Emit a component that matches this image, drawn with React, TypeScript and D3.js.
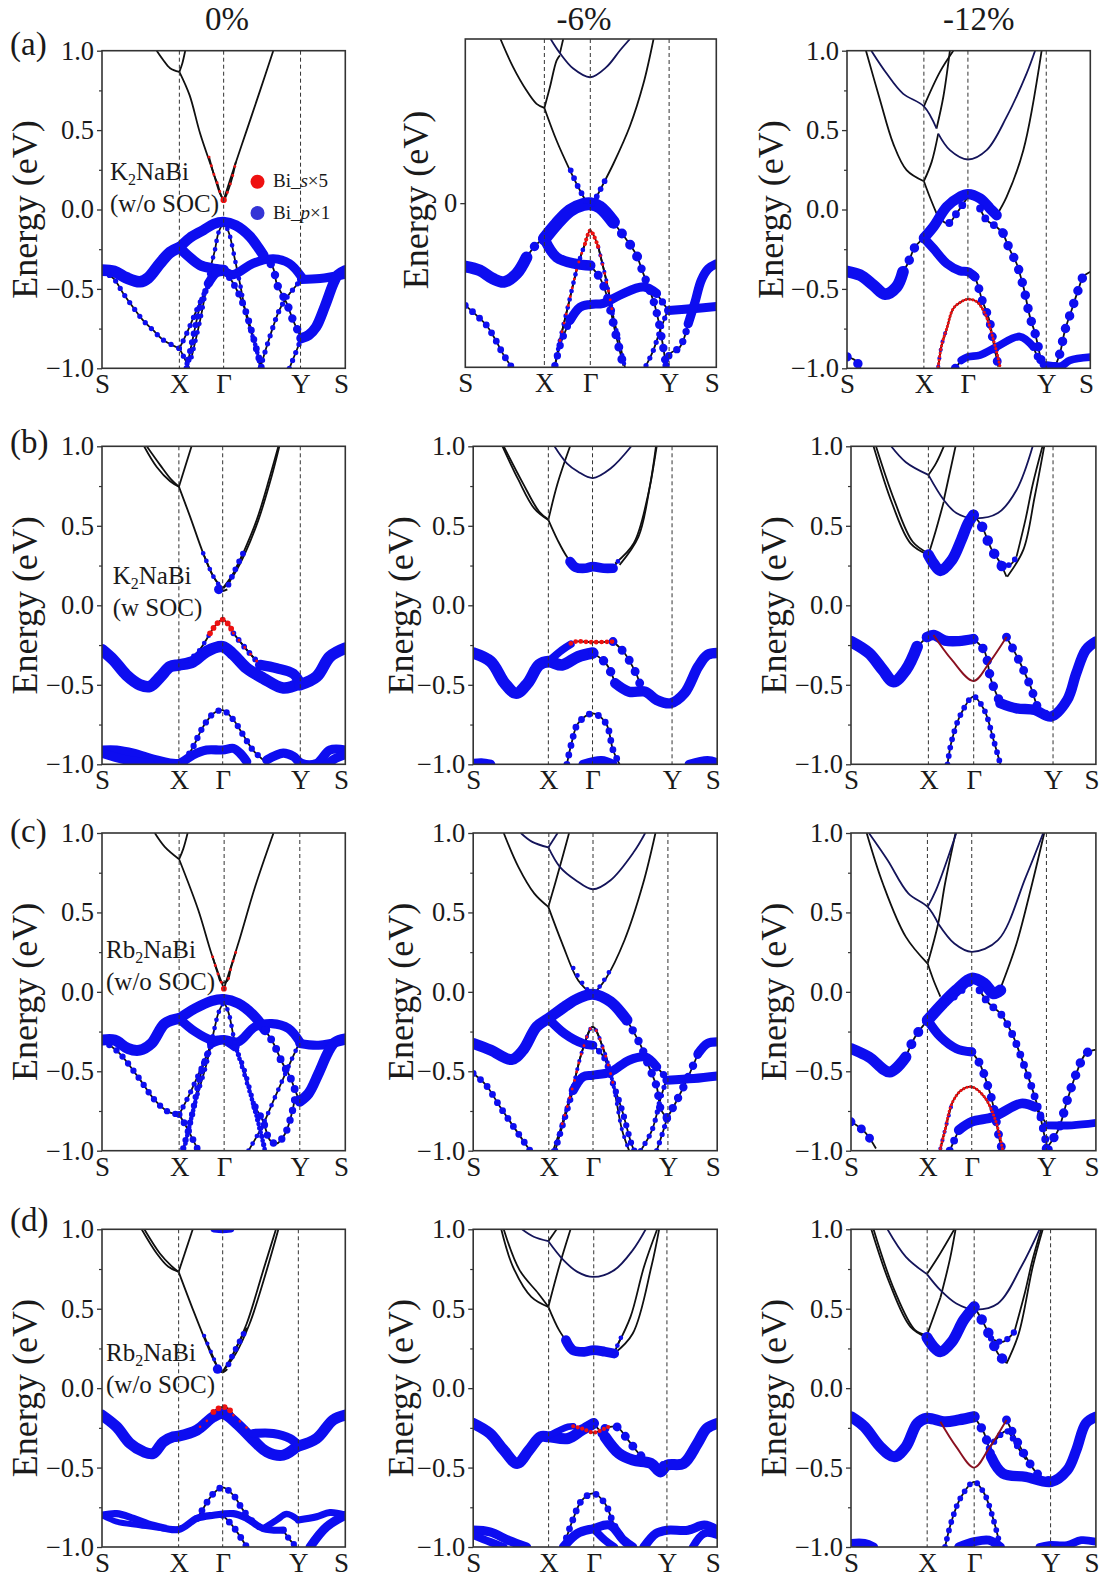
import React, { useEffect, useRef } from 'react';
import * as d3 from 'd3';

// k is % of the S-X-G-Y-S path, E in eV. a track is [weight, points]
type Pt = [number, number];
type Track = [number, Pt[]];

const bandLabels = ['S', 'X', 'Γ', 'Y', 'S'];
const strainLabels = ['0%', '-6%', '-12%'];
const rowLabels = ['(a)', '(b)', '(c)', '(d)'];

// ---- row a
const a0Lines: Pt[][] = [
  [[22.5, 1], [25, 0.945], [28, 0.89], [31.8, 0.867]],
  [[31.8, 0.867], [33, 0.92], [34.2, 1]],
  [[31.8, 0.867], [36, 0.72], [40.3, 0.48], [45.8, 0.23], [48.5, 0.1], [50, 0.06]],
  [[50, 0.06], [54, 0.25], [59.5, 0.5], [65, 0.75], [70.4, 1]],
];
const a0Fat: Track[] = [
  [0.9, [[0, -0.382], [5, -0.39], [10, -0.43], [15.6, -0.455], [19, -0.43], [23.8, -0.34], [28, -0.27], [31.8, -0.24]]],
  [0.8, [[31.8, -0.24], [36, -0.18], [41.6, -0.13], [46, -0.09], [50, -0.078], [55, -0.1], [60.8, -0.17], [64, -0.235], [66.3, -0.287]]],
  [0.8, [[31.8, -0.24], [36, -0.3], [40.3, -0.35], [45, -0.37], [50, -0.38]]],
  [0.7, [[43.7, -0.466], [47, -0.4], [50, -0.39], [54, -0.41], [62, -0.34], [70.4, -0.31], [77, -0.34], [82, -0.424]]],
  [0.7, [[82, -0.44], [89.6, -0.435], [100, -0.407]]],
  [0.8, [[82, -0.81], [85, -0.79], [88, -0.74], [91.6, -0.61], [95, -0.47], [97, -0.41], [100, -0.382]]],
];
const a0Beads: Track[] = [
  [0.8, [[66.3, -0.287], [70.4, -0.37], [71.8, -0.466], [75.9, -0.59], [78.6, -0.7], [82, -0.81]]],
  [0.65, [[50, -0.38], [54, -0.466], [58.8, -0.63], [63.6, -0.886], [65.6, -1]]],
  [0.6, [[34.8, -1], [37.5, -0.8], [40.3, -0.61], [43.7, -0.466]]],
  [0.5, [[0, -0.39], [4.7, -0.434], [8.8, -0.53], [13, -0.62], [17, -0.7], [21, -0.76], [25, -0.82], [31.8, -0.875]]],
  [0.5, [[31.8, -0.875], [34, -0.94], [35.9, -1]]],
  [0.5, [[31.8, -0.875], [34.8, -0.78], [39, -0.63], [43, -0.5], [45.8, -0.43]]],
  [0.45, [[36.8, -0.93], [40.3, -0.7], [44.4, -0.38], [46.4, -0.256], [48, -0.14], [50, -0.09], [52, -0.14], [54.7, -0.32], [56.7, -0.466], [59.5, -0.68], [63.6, -0.886], [65, -1]]],
  [0.5, [[65, -1], [69, -0.8], [73, -0.63], [76.6, -0.54], [80, -0.476], [82, -0.43]]],
  [0.5, [[77, -1], [78.6, -0.94], [82, -0.81]]],
];
const a0Red: Track[] = [
  [0.6, [[50, 0.06]]],
  [0.28, [[44, 0.33], [46, 0.22], [47.5, 0.16], [48.7, 0.1], [50, 0.06], [51.6, 0.11], [53.5, 0.2], [55, 0.3]]],
];

const a1Lines: Pt[][] = [
  [[14, 1], [19, 0.83], [24.4, 0.686], [28.4, 0.605], [31.5, 0.58]],
  [[31.5, 0.58], [33.7, 0.706], [36.4, 0.87], [37.7, 0.9]],
  [[37.7, 0.914], [39, 1]],
  [[31.5, 0.58], [36.4, 0.38], [41.7, 0.2], [45.7, 0.077], [49.8, -0.035]],
  [[49.8, -0.035], [53.6, 0.077], [59, 0.24], [65.6, 0.47], [71, 0.73], [75, 1]],
];
const a1Navy: Pt[][] = [
  [[34, 1], [37.7, 0.914], [43, 0.82], [49.8, 0.767], [56.3, 0.83], [61.6, 0.93], [65.6, 1]],
];
const a1Fat: Track[] = [
  [0.9, [[0, -0.386], [5.8, -0.41], [11, -0.46], [15.4, -0.48], [20.4, -0.43], [24.4, -0.33]]],
  [1, [[31.5, -0.217], [36.4, -0.126], [41.7, -0.045], [47, -0.008], [49.8, -0.004], [53.6, -0.024], [59, -0.116]]],
  [0.8, [[31.5, -0.217], [36.4, -0.33], [44, -0.37], [49.8, -0.38]]],
  [0.7, [[41.7, -0.715], [45.7, -0.634], [49.8, -0.617], [55, -0.61], [61.6, -0.56], [71, -0.51], [76.2, -0.55]]],
  [0.7, [[81, -0.654], [89.5, -0.644], [100, -0.63]]],
  [0.7, [[88.8, -0.735], [91.5, -0.603], [94, -0.47], [96.8, -0.4], [100, -0.37]]],
];
const a1Beads: Track[] = [
  [0.9, [[24.4, -0.33], [28.4, -0.25], [31.5, -0.217]]],
  [0.95, [[59, -0.116], [63, -0.197], [66.3, -0.268], [68.3, -0.32], [70.2, -0.4]]],
  [0.8, [[70.2, -0.4], [74.9, -0.593], [76.2, -0.664], [78, -0.8], [80, -0.99]]],
  [0.85, [[49.8, -0.38], [53, -0.44], [55, -0.5], [57.6, -0.634], [59.6, -0.776], [63, -0.99]]],
  [0.7, [[35.7, -0.99], [38.4, -0.837], [41.7, -0.715]]],
  [0.7, [[76.2, -0.55], [80.9, -0.654]]],
  [0.65, [[0, -0.623], [4.5, -0.684], [8.5, -0.745], [11.8, -0.826], [15, -0.918], [18.5, -1]]],
  [0.45, [[35.7, -0.99], [37.7, -0.837], [41, -0.623], [45, -0.37], [47.7, -0.248]]],
  [0.4, [[53, -0.268], [56.3, -0.48], [59, -0.694], [61.6, -0.857], [63.6, -1]]],
  [0.5, [[72, -0.99], [74.9, -0.897], [77.6, -0.776], [81, -0.64]]],
  [0.7, [[80, -0.99], [81.5, -0.918], [85.5, -0.877], [88.8, -0.735]]],
];
const a1Red: Track[] = [
  [0.28, [[37.7, -0.837], [41, -0.623], [45, -0.37], [47.7, -0.248]]],
  [0.4, [[47.7, -0.248], [49.8, -0.167], [53, -0.268]]],
  [0.28, [[53, -0.268], [56.3, -0.48], [59, -0.694]]],
];
const a1Tiny: Track[] = [
  [0.55, [[42, 0.2], [45.7, 0.077], [49.8, -0.01], [53.6, 0.077], [56, 0.15]]],
];

const a2Lines: Pt[][] = [
  [[7.8, 1], [13.6, 0.688], [19, 0.415], [24.5, 0.248], [31.6, 0.178]],
  [[31.6, 0.65], [38.2, 0.867], [43.7, 1]],
  [[36.8, 0.51], [39.6, 0.71], [42.3, 1]],
  [[31.6, 0.178], [34.8, 0.3], [37.5, 0.478]],
  [[31.6, 0.178], [34, 0.08], [36.8, -0.025]],
  [[61.5, -0.036], [65.6, 0.08], [72.5, 0.374], [80, 1]],
];
const a2Navy: Pt[][] = [
  [[10, 1], [16.3, 0.856], [23, 0.73], [31.6, 0.65], [36.8, 0.51]],
  [[37.5, 0.478], [42.3, 0.374], [49.7, 0.315], [57.4, 0.374], [65.6, 0.583], [73.8, 0.856], [77.3, 1]],
];
const a2Fat: Track[] = [
  [0.9, [[0, -0.39], [5.3, -0.413], [10.8, -0.476], [15.6, -0.533], [20.4, -0.487], [23, -0.392]]],
  [0.7, [[31.6, -0.18], [35.5, -0.245], [41, -0.34], [46.4, -0.386], [49.7, -0.392], [52.6, -0.424]]],
  [0.8, [[31.6, -0.18], [35.5, -0.11], [41, 0.017], [46.4, 0.08], [49.7, 0.097], [54.7, 0.07], [58.8, 0.006], [61.5, -0.036]]],
  [0.6, [[47, -0.95], [49.7, -0.928], [54.7, -0.917], [61.5, -0.865], [71, -0.8], [76.6, -0.865]]],
  [0.6, [[82, -0.98], [88, -0.985], [91.6, -0.95], [100, -0.93]]],
];
const a2Beads: Track[] = [
  [0.9, [[23, -0.392], [25, -0.34], [28, -0.235], [31.6, -0.18]]],
  [0.85, [[52.6, -0.424], [54, -0.487], [55.3, -0.56], [58.5, -0.697], [60, -0.823], [62.2, -0.99]]],
  [0.75, [[38.2, -0.057], [41.6, -0.088], [45, -0.025], [49.7, 0.08]]],
  [0.75, [[54.7, 0.006], [57.4, -0.067], [61.5, -0.11], [64.2, -0.15]]],
  [0.9, [[64.2, -0.15], [67, -0.256], [69.7, -0.34], [72.5, -0.487], [75.2, -0.676], [77.3, -0.78], [80, -0.97]]],
  [0.7, [[76.6, -0.865], [80, -0.97], [82, -0.98]]],
  [0.9, [[85.5, -0.99], [87.5, -0.907], [89.6, -0.76], [92.3, -0.634], [95, -0.508], [97.1, -0.424], [100, -0.392]]],
  [0.9, [[0, -0.928], [3.3, -0.949], [5.6, -1]]],
  [0.85, [[44.5, -1], [47, -0.95]]],
  [0.4, [[37.5, -0.99], [38.9, -0.854], [41, -0.75]]],
];
const a2Red: Track[] = [
  [0.3, [[37.5, -0.99], [38.9, -0.854], [41, -0.75], [43.7, -0.623], [47, -0.58], [49.7, -0.565], [53.3, -0.58], [56.7, -0.655], [60, -0.81], [62.2, -0.94], [62.9, -0.99]]],
];

// ---- row b
const b0Lines: Pt[][] = [
  [[17.3, 1], [22.5, 0.87], [28, 0.78], [31.6, 0.746]],
  [[18.4, 1], [24, 0.88], [28.5, 0.79], [31.6, 0.746]],
  [[31.6, 0.746], [36.8, 1]],
  [[31.6, 0.746], [36.2, 0.558], [41.6, 0.327], [45.8, 0.18], [49.6, 0.107]],
  [[49.6, 0.107], [54, 0.2], [58, 0.327], [63.6, 0.537], [69, 0.81], [72.5, 1]],
  [[50, 0.107], [54.5, 0.2], [58.8, 0.327], [64.3, 0.537], [69.7, 0.81], [72.9, 1]],
];
const b0Fat: Track[] = [
  [0.9, [[0, -0.28], [4.7, -0.344], [10, -0.438], [15.6, -0.5], [19.7, -0.51], [24, -0.449], [28, -0.386], [31.6, -0.375], [37.5, -0.354], [43, -0.29], [49.6, -0.26], [54, -0.31], [59.5, -0.396], [66.3, -0.459], [74.5, -0.52], [81.4, -0.49]]],
  [0.8, [[65, -0.375], [71.8, -0.396], [78.6, -0.43], [81.4, -0.49]]],
  [0.9, [[81.4, -0.5], [88.2, -0.449], [93.7, -0.323], [100, -0.27]]],
  [0.7, [[0, -0.91], [6, -0.91], [13, -0.93], [22.5, -0.973], [31.6, -0.994], [37.5, -0.94], [43, -0.91], [49.6, -0.91], [54, -0.9], [56.7, -0.93], [59.5, -0.983]]],
  [0.7, [[0, -0.93], [10, -0.973], [19.7, -0.994]]],
  [0.7, [[67.7, -0.973], [74.5, -0.93], [78.6, -0.95], [82, -0.994], [88.2, -0.994], [93.7, -0.91], [100, -0.91]]],
  [0.7, [[92.3, -1], [96.4, -0.96], [100, -0.94]]],
];
const b0Beads: Track[] = [
  [0.55, [[54, -0.176], [59.5, -0.28], [65, -0.375]]],
  [0.45, [[31.6, -0.375], [39, -0.3], [44.4, -0.176]]],
  [0.6, [[34, -0.98], [37.5, -0.889], [41.6, -0.763], [45.8, -0.68], [49.6, -0.66], [54, -0.72], [58, -0.815], [62, -0.91], [66.3, -0.973]]],
  [0.45, [[41.6, 0.327], [45.8, 0.18], [48, 0.13]]],
  [0.55, [[52, 0.13], [54, 0.2], [58, 0.327]]],
  [0.9, [[48, 0.1], [49.6, 0.09], [51.5, 0.1]]],
];
const b0Red: Track[] = [
  [0.55, [[44.4, -0.176], [47, -0.12], [49.6, -0.09], [52, -0.12], [54, -0.176]]],
  [0.28, [[54, -0.176], [59.5, -0.28], [65, -0.375]]],
];

const b1Lines: Pt[][] = [
  [[12, 1], [18.5, 0.79], [25, 0.61], [30.8, 0.537]],
  [[12.5, 1], [20.4, 0.767], [27, 0.59], [30.8, 0.54]],
  [[30.8, 0.537], [34.6, 0.767], [39.7, 1]],
  [[30.8, 0.537], [34.6, 0.41], [38.4, 0.306], [42, 0.243]],
  [[58.2, 0.264], [65.8, 0.39], [71.5, 0.683], [74.9, 1]],
  [[60, 0.254], [67.7, 0.43], [72.4, 0.746], [75.2, 1]],
];
const b1Navy: Pt[][] = [
  [[33.3, 1], [38.4, 0.893], [43, 0.84], [49, 0.8], [56.3, 0.86], [64.8, 1]],
];
const b1Fat: Track[] = [
  [0.75, [[39.7, 0.275], [42, 0.239], [46, 0.233], [49, 0.243], [53.5, 0.233], [57.3, 0.233]]],
  [0.9, [[0, -0.3], [7.2, -0.354], [12.9, -0.49], [17.6, -0.553], [22.3, -0.49], [27, -0.375], [30.8, -0.354], [36.5, -0.375], [43, -0.323], [49, -0.3]]],
  [0.8, [[58.2, -0.49], [63.9, -0.543], [70.5, -0.543], [75.2, -0.595], [80.9, -0.616], [86.6, -0.553], [92.2, -0.386], [96, -0.312], [100, -0.3]]],
  [0.7, [[0, -0.994], [3.4, -0.99], [7.2, -1]]],
  [0.7, [[45, -1], [52.6, -0.977], [57.3, -1]]],
  [0.7, [[88.5, -1], [96, -0.977], [100, -0.99]]],
  [0.6, [[30.8, -0.354], [36.5, -0.28], [40, -0.245]]],
];
const b1Beads: Track[] = [
  [0.9, [[49, -0.3], [54.4, -0.365], [58.2, -0.49]]],
  [0.85, [[57.3, -0.228], [62, -0.3], [66.7, -0.427], [69.6, -0.533], [72, -0.56]]],
  [0.65, [[38.4, -1], [40.3, -0.868], [43, -0.742], [49, -0.68], [54.4, -0.742], [57.3, -0.91], [60, -1]]],
  [0.45, [[57.3, 0.233], [59.7, 0.285]]],
];
const b1Red: Track[] = [
  [0.45, [[40, -0.24], [42, -0.228], [49, -0.232], [57.3, -0.228]]],
];

const b2Lines: Pt[][] = [
  [[9.2, 1], [16.8, 0.64], [24.3, 0.39], [31.6, 0.317]],
  [[10.2, 1], [17.7, 0.66], [25.2, 0.4], [31.6, 0.327]],
  [[31.6, 0.82], [34.7, 0.893], [37.9, 1]],
  [[37.9, 0.662], [42.7, 1]],
  [[31.6, 0.317], [34.7, 0.474], [37.9, 0.652]],
  [[63.8, 0.18], [70.4, 0.35], [75, 0.683], [78.9, 1]],
  [[67.6, 0.306], [71.4, 0.55], [74.2, 0.76], [78.2, 1]],
];
const b2Navy: Pt[][] = [
  [[16.4, 1], [22.4, 0.9], [31.6, 0.82]],
  [[31.6, 0.82], [37.9, 0.662], [43, 0.58], [50, 0.547], [60, 0.58], [67.6, 0.725], [74.2, 1]],
];
const b2Fat: Track[] = [
  [0.85, [[31.6, 0.317], [33.7, 0.264], [36.5, 0.218], [41.2, 0.285], [45, 0.41], [47.8, 0.516], [50, 0.568]]],
  [0.9, [[0, -0.228], [7.3, -0.3], [13, -0.407], [17.3, -0.48], [22.4, -0.407], [27, -0.26]]],
  [0.8, [[31, -0.2], [33.7, -0.187], [38.4, -0.222], [44, -0.225], [50, -0.212]]],
  [0.8, [[61, -0.616], [67.6, -0.648], [75, -0.658], [81.7, -0.7], [88.3, -0.595], [92, -0.427], [95.9, -0.28], [100, -0.228]]],
];
const b2Beads: Track[] = [
  [1, [[50, 0.568], [53.5, 0.495], [57.2, 0.358], [61, 0.264], [63.5, 0.18]]],
  [0.55, [[61, 0.264], [64.8, 0.254], [67.6, 0.306]]],
  [0.9, [[27, -0.26], [31, -0.2]]],
  [0.9, [[50, -0.212], [54.4, -0.285], [57.2, -0.47], [61, -0.616]]],
  [0.85, [[63.5, -0.2], [68.5, -0.344], [73.3, -0.51], [77, -0.658], [81.7, -0.7]]],
  [0.55, [[39.4, -1], [41.2, -0.847], [45, -0.68], [50, -0.574], [54.4, -0.658], [58.2, -0.847], [61, -1]]],
];
const b2Thin: Pt[][] = [
  [[33.7, -0.187], [41.2, -0.344], [50, -0.476], [56.3, -0.365], [63.5, -0.2]],
];

// ---- row c
const c0Lines: Pt[][] = [
  [[21.7, 1], [25.8, 0.913], [31.7, 0.835]],
  [[31.7, 0.835], [33.4, 0.9], [35.2, 1]],
  [[31.7, 0.835], [39.6, 0.514], [45, 0.24], [50.1, 0.02]],
  [[50.1, 0.02], [56, 0.304], [62.9, 0.66], [70.5, 1]],
];
const c0Fat: Track[] = [
  [0.85, [[0, -0.304], [5.2, -0.304], [10.7, -0.357], [15.5, -0.367], [20.3, -0.325], [25.8, -0.2], [31.7, -0.168]]],
  [0.8, [[31.7, -0.168], [38.2, -0.105], [45, -0.057], [50.1, -0.046], [56, -0.073], [62.9, -0.157], [67, -0.24]]],
  [0.7, [[31.7, -0.168], [38.2, -0.25], [45, -0.304], [50.1, -0.304], [54.7, -0.346]]],
  [0.7, [[45, -0.325], [50.1, -0.3], [56, -0.315], [62.9, -0.22], [69.8, -0.2], [76.6, -0.23], [81.3, -0.315]]],
  [0.7, [[81.3, -0.325], [89, -0.336], [100, -0.304]]],
  [0.8, [[81.3, -0.69], [84.9, -0.64], [89, -0.514], [93, -0.378], [95.9, -0.315], [100, -0.294]]],
];
const c0Beads: Track[] = [
  [0.75, [[67, -0.24], [70.5, -0.325], [73.9, -0.44], [77.3, -0.535], [79.4, -0.62], [81.3, -0.69]]],
  [0.5, [[54.7, -0.346], [58, -0.47], [61.5, -0.66], [65.7, -0.913], [67, -1]]],
  [0.6, [[33.4, -0.986], [36.8, -0.787], [41, -0.493], [45, -0.325]]],
  [0.6, [[0, -0.304], [6.6, -0.378], [14.8, -0.535], [21.7, -0.682], [27.2, -0.755], [31.7, -0.772]]],
  [0.65, [[31.7, -0.772], [35.4, -0.87], [39.6, -1]]],
  [0.5, [[31.7, -0.772], [36.1, -0.64], [41, -0.472], [45, -0.325]]],
  [0.45, [[34.3, -0.955], [38.2, -0.703], [43, -0.451], [46.4, -0.22], [48, -0.126], [50.1, -0.073], [51.9, -0.126], [54.7, -0.325], [58.8, -0.535], [62.9, -0.745], [67, -1]]],
  [0.45, [[60.2, -1], [65.7, -0.85], [71.2, -0.66], [76.6, -0.472], [81.3, -0.315]]],
  [0.7, [[62.9, -0.724], [66.3, -0.818], [69, -0.934], [71.8, -0.955], [75.3, -0.892], [78, -0.766], [79.4, -0.66]]],
];
const c0Red: Track[] = [
  [0.55, [[50.1, 0.02]]],
  [0.28, [[45.5, 0.22], [47.5, 0.12], [49, 0.06], [51.5, 0.07], [53, 0.15], [55, 0.25]]],
];

const c1Lines: Pt[][] = [
  [[12.5, 1], [18.5, 0.787], [25, 0.62], [30.8, 0.535]],
  [[30.8, 0.535], [35.5, 0.787], [39.3, 1]],
  [[30.8, 0.535], [36.5, 0.304], [43, 0.073], [49, -0.02]],
  [[49, -0.02], [54.4, 0.084], [62, 0.325], [69.6, 0.68], [74.7, 1]],
];
const c1Navy: Pt[][] = [
  [[19.5, 1], [24.2, 0.944], [30.8, 0.909]],
  [[30.8, 0.909], [35.5, 0.787], [42, 0.703], [49, 0.646], [56.3, 0.703], [65.8, 0.88], [70.5, 1]],
  [[30.8, 0.909], [34.6, 1]],
];
const c1Fat: Track[] = [
  [0.85, [[0, -0.325], [7.2, -0.367], [15.7, -0.426], [20.4, -0.367], [26, -0.22], [30.8, -0.168], [37.4, -0.094], [43, -0.042], [49, -0.015], [56.3, -0.063], [63, -0.178]]],
  [0.7, [[30.8, -0.168], [37.4, -0.262], [45, -0.325], [49, -0.336]]],
  [0.7, [[41, -0.62], [45, -0.535], [49, -0.525], [56.3, -0.504], [63.9, -0.43], [70.5, -0.41], [75.2, -0.472]]],
  [0.7, [[79.4, -0.556], [90.4, -0.546], [100, -0.53]]],
  [0.7, [[92.2, -0.388], [96, -0.325], [100, -0.315]]],
];
const c1Beads: Track[] = [
  [0.8, [[63, -0.178], [68.6, -0.336], [71.5, -0.451], [75.2, -0.598], [77, -0.745], [79.4, -0.79]]],
  [0.6, [[49, -0.336], [53.5, -0.41], [57.3, -0.577], [61, -0.745], [64.8, -0.955], [66, -1]]],
  [0.6, [[33.6, -1], [39.3, -0.703], [41, -0.62]]],
  [0.7, [[75.2, -0.472], [79.4, -0.546]]],
  [0.65, [[0, -0.514], [5.3, -0.588], [11, -0.724], [16.6, -0.85], [23.3, -1]]],
  [0.8, [[79.4, -0.797], [82.8, -0.703], [87.5, -0.556], [92.2, -0.388]]],
  [0.4, [[32.7, -1], [36.5, -0.83], [41.2, -0.577], [45, -0.357], [49, -0.22], [53.5, -0.367], [57.3, -0.577], [61, -0.87], [63.9, -1]]],
  [0.5, [[68.6, -1], [73.3, -0.87], [77, -0.66], [79.4, -0.546]]],
  [0.5, [[75.2, -1], [78, -0.87], [79.4, -0.797]]],
];
const c1Red: Track[] = [
  [0.28, [[36.5, -0.83], [41.2, -0.577], [45, -0.357], [49, -0.22], [53.5, -0.367], [57.3, -0.577]]],
];
const c1Tiny: Track[] = [
  [0.45, [[41, 0.15], [45, 0.05], [49, -0.01], [53, 0.06], [57, 0.16]]],
];

const c2Lines: Pt[][] = [
  [[6.4, 1], [13, 0.682], [22.4, 0.346], [31.3, 0.178]],
  [[31.3, 0.178], [33.7, 0.073], [36.5, -0.03]],
  [[31.3, 0.178], [35.6, 0.43], [38.4, 0.682], [42.7, 1]],
  [[61, 0.02], [67.6, 0.304], [73.3, 0.64], [78.9, 1]],
];
const c2Navy: Pt[][] = [
  [[7.3, 1], [14.9, 0.83], [23.4, 0.62], [31.3, 0.535], [35.6, 0.43]],
  [[31.3, 0.535], [34.7, 0.64], [43, 1]],
  [[35.6, 0.43], [42.2, 0.304], [49.3, 0.252], [60, 0.325], [71.4, 0.724], [78.5, 1]],
];
const c2Fat: Track[] = [
  [0.85, [[0, -0.357], [7.3, -0.41], [15.8, -0.504], [22.4, -0.41]]],
  [0.9, [[31.3, -0.178], [37.5, -0.073], [43, 0.01], [49.3, 0.084], [54.4, 0.052], [58.2, -0.01], [61, 0.01]]],
  [0.7, [[31.3, -0.178], [36.5, -0.283], [43, -0.357], [49.3, -0.378]]],
  [0.75, [[44, -0.87], [49.3, -0.818], [58.2, -0.787], [69.5, -0.703], [75, -0.724]]],
  [0.6, [[79.8, -0.84], [90.2, -0.84], [100, -0.825]]],
];
const c2Beads: Track[] = [
  [0.95, [[22.4, -0.41], [26.2, -0.283], [31.3, -0.178]]],
  [0.7, [[38.4, -0.063], [42.2, -0.03], [49.3, 0.07]]],
  [0.75, [[52.5, 0.01], [56.3, -0.073], [61, -0.136], [65.7, -0.262], [70.4, -0.45], [74.2, -0.62], [77, -0.766], [79.8, -0.955], [81, -1]]],
  [0.85, [[49.3, -0.378], [52.5, -0.45], [56, -0.598], [58.2, -0.724], [61, -0.955], [62, -1]]],
  [0.75, [[40.3, -1], [44, -0.87]]],
  [0.7, [[75, -0.724], [79.8, -0.83]]],
  [0.85, [[0, -0.818], [5.5, -0.88], [10.2, -0.986]]],
  [0.9, [[79.8, -0.986], [84.6, -0.87], [88.3, -0.682], [92, -0.514], [95.9, -0.388], [100, -0.363]]],
  [0.4, [[36.5, -0.986], [38.4, -0.87], [41.2, -0.703]]],
];
const c2Red: Track[] = [
  [0.3, [[36.5, -0.986], [38.4, -0.87], [41.2, -0.703], [45, -0.62], [49.3, -0.598], [54.4, -0.66], [59, -0.808], [62, -1]]],
];

// ---- row d
const d0Lines: Pt[][] = [
  [[16.3, 1], [22.5, 0.848], [27.3, 0.764], [31.5, 0.732]],
  [[17.4, 1], [23.8, 0.848], [28.5, 0.77], [31.5, 0.732]],
  [[31.5, 0.732], [37.3, 1]],
  [[31.5, 0.732], [37.5, 0.49], [43, 0.28], [47, 0.145], [49.6, 0.103]],
  [[49.6, 0.103], [54, 0.218], [59.5, 0.407], [66.3, 0.743], [71.5, 1]],
  [[49.6, 0.103], [55, 0.218], [60.7, 0.407], [67.7, 0.743], [72.5, 1]],
];
const d0Fat: Track[] = [
  [0.85, [[0, -0.17], [6, -0.243], [11.5, -0.348], [17, -0.4], [21, -0.411], [25.2, -0.338], [29.3, -0.306], [31.5, -0.302], [39, -0.264], [45.8, -0.18], [49.6, -0.16], [55.3, -0.222], [62.2, -0.327], [67.7, -0.4], [74.5, -0.422], [80.7, -0.359]]],
  [0.7, [[62.2, -0.285], [70.4, -0.285], [77.3, -0.317], [80.7, -0.359]]],
  [0.85, [[80.7, -0.365], [88.2, -0.317], [95, -0.2], [100, -0.17]]],
  [0.55, [[0, -0.8], [6, -0.79], [13, -0.82], [21, -0.863], [31.5, -0.89], [39, -0.82], [45.8, -0.8], [54, -0.79], [59.5, -0.82], [66.3, -0.884], [74.5, -0.894]]],
  [0.45, [[0, -0.8], [6, -0.84], [15.6, -0.863], [25.2, -0.884], [31.5, -0.89]]],
  [0.55, [[80.7, -0.83], [88.2, -0.81], [93.7, -0.783], [100, -0.8]]],
  [0.7, [[85.5, -1], [92.3, -0.873], [100, -0.8]]],
  [0.5, [[66.3, -0.884], [71.8, -0.83], [75.9, -0.793], [80.7, -0.83]]],
  [0.5, [[46, 1.0], [49.6, 0.995], [53, 1.0]]],
];
const d0Beads: Track[] = [
  [0.65, [[39, -0.82], [40.3, -0.79], [45.8, -0.663], [49.6, -0.625], [54, -0.674], [58, -0.768], [63.6, -0.863], [67.7, -0.894]]],
  [0.65, [[49.6, -0.8], [54, -0.873], [59.5, -1]]],
  [0.6, [[74.5, -0.894], [77.3, -0.957], [80, -1]]],
  [0.4, [[42, 0.33], [45, 0.22], [47, 0.15]]],
  [0.55, [[52, 0.15], [54, 0.218], [59.5, 0.38]]],
  [0.9, [[47.5, 0.12], [49.6, 0.1], [51.5, 0.12]]],
];
const d0Red: Track[] = [
  [0.55, [[45.8, -0.15], [47.5, -0.13], [49.6, -0.118], [52, -0.13], [54, -0.17]]],
  [0.25, [[40.3, -0.243], [45.8, -0.17]]],
  [0.25, [[54, -0.17], [59.5, -0.25]]],
];

const d1Lines: Pt[][] = [
  [[11.5, 1], [16.3, 0.764], [23.8, 0.575], [30.8, 0.512]],
  [[12.5, 1], [19, 0.743], [26.7, 0.596], [30.8, 0.512]],
  [[30.8, 0.925], [34.2, 1]],
  [[30.8, 0.512], [35.2, 0.764], [39.9, 1]],
  [[30.8, 0.512], [35.2, 0.365], [39, 0.28]],
  [[58.8, 0.26], [64.5, 0.45], [70, 0.764], [75.4, 1]],
  [[57.8, 0.218], [65.4, 0.344], [73, 0.764], [76.2, 1]],
];
const d1Navy: Pt[][] = [
  [[20, 1], [24.8, 0.953], [30.8, 0.925]],
  [[30.8, 0.925], [37, 0.806], [42.7, 0.732], [49.3, 0.7], [57.8, 0.743], [65.4, 0.869], [70.7, 1]],
];
const d1Fat: Track[] = [
  [0.75, [[38, 0.302], [40.8, 0.24], [45.6, 0.229], [49.3, 0.24], [54, 0.229], [57.8, 0.218]]],
  [0.85, [[0, -0.222], [6.8, -0.285], [12.5, -0.39], [18, -0.474], [22.9, -0.39], [27.6, -0.306], [30.8, -0.306], [38.9, -0.317], [44.6, -0.264], [49.3, -0.222]]],
  [0.85, [[54, -0.306], [59.7, -0.411], [65.4, -0.453], [72.9, -0.474], [76.7, -0.527], [79.4, -0.485], [86.2, -0.474], [91.9, -0.348], [95.7, -0.254], [100, -0.222]]],
  [0.5, [[30.8, -0.3], [38.9, -0.243], [41, -0.24]]],
  [0.7, [[0, -0.894], [6.8, -0.905], [14.4, -0.957], [21.9, -1]]],
  [0.6, [[0, -0.925], [6.8, -0.967], [12.5, -1]]],
  [0.7, [[37, -1], [42.7, -0.915], [49.3, -0.884], [56, -0.862], [61.6, -0.957], [65.4, -1]]],
  [0.6, [[49.3, -0.884], [54, -0.957], [57.8, -1]]],
  [0.7, [[70, -1], [74.9, -0.915], [79.4, -0.894], [88, -0.894], [94.7, -0.862], [100, -0.894]]],
  [0.6, [[90, -1], [94.7, -0.915], [100, -0.925]]],
];
const d1Beads: Track[] = [
  [0.9, [[49.3, -0.222], [54, -0.306]]],
  [0.85, [[54, -0.254], [58.8, -0.243], [63.5, -0.327], [69.2, -0.432], [74.9, -0.485], [79.4, -0.485]]],
  [0.65, [[37, -1], [40.8, -0.83], [44.6, -0.705], [49.3, -0.663], [54, -0.726], [57.8, -0.862], [63.5, -1]]],
  [0.45, [[57.8, 0.218], [59.4, 0.28], [60.7, 0.323]]],
];
const d1Red: Track[] = [
  [0.4, [[41, -0.24], [44.6, -0.254], [49.3, -0.28], [54, -0.254], [56, -0.24]]],
];

const d2Lines: Pt[][] = [
  [[8.3, 1], [15.8, 0.659], [24.3, 0.386], [31, 0.319]],
  [[9.2, 1], [17.7, 0.617], [26.2, 0.365], [31, 0.334]],
  [[31, 0.718], [35.6, 0.827], [42.2, 1]],
  [[36.5, 0.569], [40.3, 0.806], [42.7, 1]],
  [[31, 0.334], [33.7, 0.449], [36.5, 0.569]],
  [[63.5, 0.155], [68.5, 0.344], [74.2, 0.764], [78.3, 1]],
  [[66.7, 0.354], [71, 0.6], [74, 0.8], [77.7, 1]],
];
const d2Navy: Pt[][] = [
  [[14.9, 1], [22.4, 0.827], [31, 0.718]],
  [[31, 0.718], [36.5, 0.617], [43, 0.533], [50.3, 0.495], [60, 0.533], [69.5, 0.764], [77, 1]],
];
const d2Fat: Track[] = [
  [0.85, [[31, 0.319], [33.7, 0.26], [36.5, 0.229], [41.2, 0.292], [46, 0.428], [50.3, 0.512]]],
  [0.85, [[0, -0.18], [5.5, -0.243], [12, -0.37], [17.7, -0.432], [22.4, -0.37], [27.1, -0.222], [31, -0.19], [38.4, -0.212], [44, -0.2], [50.3, -0.18]]],
  [0.8, [[57.2, -0.432], [62, -0.537], [71.4, -0.558], [81.7, -0.59], [88.3, -0.516], [92, -0.39], [95.9, -0.222], [100, -0.18]]],
  [0.7, [[0, -0.978], [5.5, -0.978], [9.2, -1]]],
  [0.7, [[44, -1], [50.3, -0.967], [56.3, -0.957], [61, -1]]],
  [0.6, [[77, -1], [80.8, -0.988], [88.3, -0.988], [94, -0.957], [100, -0.967]]],
];
const d2Beads: Track[] = [
  [1, [[50.3, 0.512], [53.5, 0.428], [57.2, 0.313], [60, 0.218], [63.5, 0.16]]],
  [0.6, [[57.2, 0.313], [62, 0.292], [66.7, 0.354]]],
  [0.9, [[50.3, -0.18], [54.4, -0.285], [57.2, -0.432]]],
  [0.85, [[63.5, -0.2], [67.6, -0.327], [71.4, -0.432], [76, -0.537], [81.7, -0.59]]],
  [0.6, [[56.3, -0.38], [63.5, -0.27], [67.6, -0.36], [71.4, -0.45]]],
  [0.55, [[38.4, -1], [41.2, -0.83], [45, -0.684], [50.3, -0.59], [54.4, -0.663], [58.2, -0.83], [61, -1]]],
];
const d2Thin: Pt[][] = [
  [[36.5, -0.212], [43, -0.37], [50.3, -0.5], [56.3, -0.38], [63.5, -0.2]],
];

// high-symmetry points of every panel, % of the path
const symK: number[][] = [
  [31.8, 50, 81.6], [31.5, 49.8, 81.2], [31.6, 49.7, 81.9],
  [31.6, 49.6, 81.5], [30.8, 48.9, 81.5], [31.6, 50.1, 82.5],
  [31.7, 50.2, 81.3], [31, 49.1, 79.8], [31.2, 49.3, 79.8],
  [31.5, 49.6, 80.7], [30.9, 49.4, 79.4], [31.1, 50.3, 81.5],
];

// ---- layout
const frameX = [[102, 345.3], [473.2, 717.2], [851, 1095.9]];
const frameY = [[446.3, 764.3], [833, 1150.7], [1229.3, 1547]];
const labelX = [37, 412.5, 786];

type Panel = {
  lines: Pt[][]; navy?: Pt[][]; fat: Track[]; beads: Track[]; red?: Track[]; tiny?: Track[]; thin?: Pt[][];
};
const panels: Panel[] = [
  { lines: a0Lines, fat: a0Fat, beads: a0Beads, red: a0Red },
  { lines: a1Lines, navy: a1Navy, fat: a1Fat, beads: a1Beads, red: a1Red, tiny: a1Tiny },
  { lines: a2Lines, navy: a2Navy, fat: a2Fat, beads: a2Beads, red: a2Red },
  { lines: b0Lines, fat: b0Fat, beads: b0Beads, red: b0Red },
  { lines: b1Lines, navy: b1Navy, fat: b1Fat, beads: b1Beads, red: b1Red },
  { lines: b2Lines, navy: b2Navy, fat: b2Fat, beads: b2Beads, thin: b2Thin },
  { lines: c0Lines, fat: c0Fat, beads: c0Beads, red: c0Red },
  { lines: c1Lines, navy: c1Navy, fat: c1Fat, beads: c1Beads, red: c1Red, tiny: c1Tiny },
  { lines: c2Lines, navy: c2Navy, fat: c2Fat, beads: c2Beads, red: c2Red },
  { lines: d0Lines, fat: d0Fat, beads: d0Beads, red: d0Red },
  { lines: d1Lines, navy: d1Navy, fat: d1Fat, beads: d1Beads, red: d1Red },
  { lines: d2Lines, navy: d2Navy, fat: d2Fat, beads: d2Beads, thin: d2Thin },
];

const FONT = '"Liberation Serif", serif';
const BLUE = '#0d0df0';
const RED = '#ee1111';

const App = () => {
  const svgRef = useRef<SVGSVGElement>(null);

  useEffect(() => {
    const svg = d3.select(svgRef.current);
    svg.selectAll('*').remove();
    svg.attr('font-family', FONT).attr('fill', '#1a1a1a');

    const fatWidth = d3.scaleLinear().domain([0, 1]).range([0, 13]);
    const beadSize = d3.scaleLinear().domain([0, 1]).range([0, 10.5]);

    panels.forEach((p, i) => {
      const row = Math.floor(i / 3);
      const col = i % 3;
      const special = i === 1; // -6% in the first row has a taller frame and one tick
      const [x0, x1] = row === 0 ? [[102, 345.3], [465.3, 716.3], [847, 1090.3]][col] : frameX[col];
      const [y0, y1] = special ? [39, 367.3] : row === 0 ? [50.7, 368.3] : frameY[row - 1];
      const xs = d3.scaleLinear().domain([0, 100]).range([x0, x1]);
      const ys = d3.scaleLinear().domain([-1, 1]).range([y1, y0]);
      const line = d3.line<Pt>().x(d => xs(d[0])).y(d => ys(d[1])).curve(d3.curveCatmullRom.alpha(0.5));

      const clipId = `clip-${i}`;
      svg.append('clipPath').attr('id', clipId).append('rect')
        .attr('x', x0).attr('y', y0).attr('width', x1 - x0).attr('height', y1 - y0);
      const g = svg.append('g').attr('clip-path', `url(#${clipId})`);

      // plain bands, then the fat bands on the same path, then the s weight
      const redLines = (p.red || []).filter(t => t[1].length > 1).map(t => t[1]);
      const allLines = [...p.lines, ...p.beads.map(t => t[1]), ...redLines];
      g.selectAll('path.band').data(allLines).enter().append('path')
        .attr('class', 'band').attr('d', d => line(d)).attr('fill', 'none')
        .attr('stroke', '#101010').attr('stroke-width', 1.8);
      g.selectAll('path.navy').data(p.navy || []).enter().append('path')
        .attr('class', 'navy').attr('d', d => line(d)).attr('fill', 'none')
        .attr('stroke', '#14145a').attr('stroke-width', 1.8);
      g.selectAll('path.fat').data(p.fat).enter().append('path')
        .attr('class', 'fat').attr('d', d => line(d[1])).attr('fill', 'none')
        .attr('stroke', BLUE).attr('stroke-linecap', 'round').attr('stroke-linejoin', 'round')
        .attr('stroke-width', d => fatWidth(d[0]));
      g.selectAll('path.beads').data([...p.beads, ...(p.tiny || [])]).enter().append('path')
        .attr('class', 'beads').attr('d', d => line(d[1])).attr('fill', 'none')
        .attr('stroke', BLUE).attr('stroke-linecap', 'round')
        .attr('stroke-width', d => beadSize(d[0]))
        .attr('stroke-dasharray', d => `0 ${Math.max(beadSize(d[0]) * 1.4, 8.5)}`);
      g.selectAll('path.thin').data(p.thin || []).enter().append('path')
        .attr('class', 'thin').attr('d', d => line(d)).attr('fill', 'none')
        .attr('stroke', '#8a1020').attr('stroke-width', 1.9);
      g.selectAll('path.red').data(p.red || []).enter().append('path')
        .attr('class', 'red').attr('d', d => line(d[1].length > 1 ? d[1] : [d[1][0], d[1][0]])).attr('fill', 'none')
        .attr('stroke', RED).attr('stroke-linecap', 'round')
        .attr('stroke-width', d => beadSize(d[0]))
        .attr('stroke-dasharray', d => `0 ${d[0] < 0.3 ? 9 : beadSize(d[0]) * 1.1}`);

      // high-symmetry lines
      const sym = symK[i];
      svg.selectAll(`line.sym-${i}`).data(sym).enter().append('line')
        .attr('x1', d => xs(d)).attr('x2', d => xs(d)).attr('y1', y0).attr('y2', y1)
        .attr('stroke', '#333').attr('stroke-width', 1).attr('stroke-dasharray', '4 3');

      // axes
      const left = svg.append('g').attr('transform', `translate(${x0},0)`);
      const major = special ? [0] : [-1, -0.5, 0, 0.5, 1];
      left.call(d3.axisLeft(ys).tickValues(major).tickSize(5).tickPadding(3)
        .tickFormat(d => (special ? '0' : d3.format('.1f')(d as number))));
      left.selectAll('text').attr('font-size', 26.5).attr('font-family', FONT).attr('fill', '#1a1a1a');
      left.selectAll('line').attr('stroke', '#333').attr('stroke-width', 1.3);
      left.select('.domain').remove();
      if (!special) {
        const minor = svg.append('g').attr('transform', `translate(${x0},0)`);
        minor.call(d3.axisLeft(ys).tickValues([-0.75, -0.25, 0.25, 0.75]).tickSize(3).tickFormat(() => ''));
        minor.selectAll('line').attr('stroke', '#333').attr('stroke-width', 1.2);
        minor.select('.domain').remove();
      }

      const bottom = svg.append('g').attr('transform', `translate(0,${y1})`);
      const tickK = [0, ...sym, 98.2];
      bottom.call(d3.axisBottom(xs).tickValues(tickK).tickSize(0).tickPadding(6)
        .tickFormat((_, j) => bandLabels[j]));
      bottom.selectAll('text').attr('font-size', 27).attr('font-family', FONT).attr('fill', '#1a1a1a');
      bottom.select('.domain').remove();

      svg.append('rect').attr('x', x0).attr('y', y0).attr('width', x1 - x0).attr('height', y1 - y0)
        .attr('fill', 'none').attr('stroke', '#333').attr('stroke-width', 1.6);

      // y label
      const lx = row === 0 ? [37, 427.5, 782.5][col] : labelX[col];
      svg.append('text').text('Energy (eV)')
        .attr('transform', `translate(${lx},${special ? 200 : (y0 + y1) / 2}) rotate(-90)`)
        .attr('text-anchor', 'middle').attr('font-size', 36);
    });

    // column titles
    const titleX = [227, 584, 978.7];
    svg.selectAll('text.strain').data(strainLabels).enter().append('text')
      .attr('class', 'strain').text(d => d).attr('x', (_, i) => titleX[i]).attr('y', 30)
      .attr('text-anchor', 'middle').attr('font-size', 33);

    // row letters
    const letterY = [55, 453, 842, 1231];
    svg.selectAll('text.letter').data(rowLabels).enter().append('text')
      .attr('class', 'letter').text(d => d).attr('x', 10).attr('y', (_, i) => letterY[i]).attr('font-size', 33);

    // compound annotations
    const note = (x: number, y: number, head: string, tail: string, second: string) => {
      const t = svg.append('text').attr('x', x).attr('y', y).attr('font-size', 25);
      t.append('tspan').text(head);
      t.append('tspan').text('2').attr('font-size', 16).attr('dy', 5);
      t.append('tspan').text(tail).attr('dy', -5);
      svg.append('text').attr('x', x).attr('y', y + 32).attr('font-size', 25).text(second);
    };
    note(110, 180, 'K', 'NaBi', '(w/o SOC)');
    note(112.7, 584, 'K', 'NaBi', '(w SOC)');
    note(106, 958, 'Rb', 'NaBi', '(w/o SOC)');
    note(106, 1361, 'Rb', 'NaBi', '(w/o SOC)');

    // legend
    const legend = [
      { c: RED, y: 181.7, orb: 's', mul: '×5' },
      { c: '#3434d6', y: 213, orb: 'p', mul: '×1' },
    ];
    legend.forEach(l => {
      svg.append('circle').attr('cx', 257.5).attr('cy', l.y).attr('r', 7).attr('fill', l.c);
      const t = svg.append('text').attr('x', 273).attr('y', l.y + 5.5).attr('font-size', 19);
      t.append('tspan').text('Bi_');
      t.append('tspan').text(l.orb).attr('font-style', 'italic');
      t.append('tspan').text(l.mul);
    });

    return () => {
      d3.select(svgRef.current).selectAll('*').remove();
    };
  }, []);

  return (
    <svg
      ref={svgRef}
      width={1100}
      height={1578}
      style={{ position: 'absolute', left: 0, top: 0, display: 'block', background: '#fff' }}
    />
  );
};

export default App;
